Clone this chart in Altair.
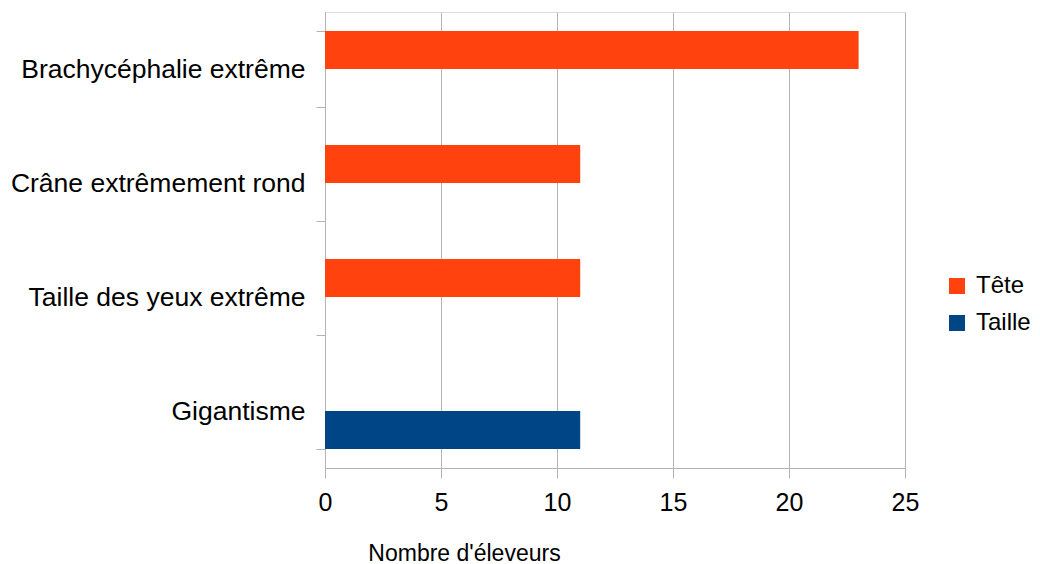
import altair as alt
import pandas as pd

categories = ["Brachycéphalie extrême", "Crâne extrêmement rond", "Taille des yeux extrême", "Gigantisme"]
series = ["Tête", "Tête", "Tête", "Taille"]
values = [23, 11, 11, 11]
series_order = ["Tête", "Taille"]
colors = ["#ff420e", "#004586"]
x_ticks = [0, 5, 10, 15, 20, 25]

df = pd.DataFrame({"cat": categories, "series": series, "value": values})

FONT = "Liberation Sans"
GRAY = "#b3b3b3"

chart = alt.Chart(df).mark_bar().encode(
    x=alt.X("value:Q",
            scale=alt.Scale(domain=[0, 25], nice=False, zero=True),
            axis=alt.Axis(values=x_ticks, title="Nombre d'éleveurs", grid=True, gridColor=GRAY,
                          domainColor=GRAY, tickColor=GRAY, tickSize=10, labelPadding=12,
                          labelFlush=False,
                          labelFontSize=25, labelColor="#000000", labelFont=FONT,
                          titleFont=FONT, titleFontSize=23, titleFontWeight="normal",
                          titleColor="#000000", titleX=139, titleY=92, titleAlign="center",
                          titleBaseline="alphabetic")),
    y=alt.Y("cat:N", sort=categories,
            scale=alt.Scale(paddingInner=1/3, paddingOuter=1/6),
            axis=alt.Axis(title=None, tickBand="extent", grid=False, domainColor=GRAY,
                          tickColor=GRAY, tickSize=9, labelPadding=11, labelFontSize=26.5,
                          labelColor="#000000", labelFont=FONT, labelLimit=400)),
    yOffset=alt.YOffset("series:N", sort=series_order, scale=alt.Scale(domain=series_order, paddingInner=0, paddingOuter=0)),
    color=alt.Color("series:N", sort=series_order,
                    scale=alt.Scale(domain=series_order, range=colors),
                    legend=alt.Legend(title=None, orient="none", legendX=620, legendY=262,
                                      symbolType="square", symbolSize=256, symbolStrokeWidth=0,
                                      labelFontSize=24, labelFont=FONT, labelColor="#000000",
                                      labelOffset=7, rowPadding=13)),
).properties(
    width=580, height=456,
    autosize=alt.AutoSizeParams(type="none"),
    padding={"left": 317, "top": 4, "right": 127, "bottom": 96},
).configure_view(stroke=GRAY).configure(font=FONT)

chart.save("out.html", embed_options={"renderer": "svg", "actions": False})
